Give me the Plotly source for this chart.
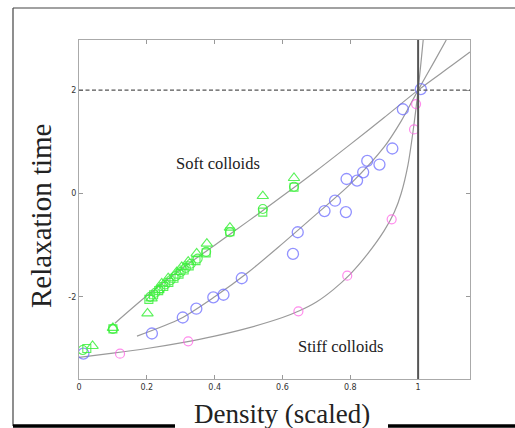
import plotly.graph_objects as go

# ---- data ----
soft_curve_x = [0.106, 0.2, 0.3, 0.4, 0.5, 0.6, 0.7, 0.8, 0.9, 1.0, 1.1, 1.153]
soft_curve_y = [-2.51, -1.98, -1.47, -1.0, -0.53, -0.05, 0.44, 0.95, 1.47, 2.0, 2.48, 2.74]

mid_curve_x = [0.171, 0.3, 0.4, 0.5, 0.6, 0.7, 0.8, 0.9, 0.95, 1.0, 1.05, 1.083]
mid_curve_y = [-2.76, -2.42, -2.0, -1.52, -0.97, -0.40, 0.18, 0.90, 1.40, 2.0, 2.58, 2.97]

stiff_curve_x = [0.0, 0.1, 0.2, 0.3, 0.4, 0.5, 0.6, 0.65, 0.7, 0.75, 0.8, 0.85, 0.9, 0.93, 0.95, 0.97, 0.985, 1.0, 1.015]
stiff_curve_y = [-3.17, -3.09, -3.0, -2.89, -2.76, -2.6, -2.4, -2.27, -2.1, -1.86, -1.56, -1.18, -0.72, -0.36, 0.0, 0.55, 1.2, 2.0, 2.97]

green_tri_x = [0.04, 0.10, 0.202, 0.214, 0.234, 0.244, 0.263, 0.288, 0.303, 0.322, 0.347, 0.377, 0.445, 0.542, 0.634]
green_tri_y = [-2.95, -2.60, -2.32, -2.03, -1.87, -1.74, -1.64, -1.52, -1.42, -1.32, -1.16, -0.97, -0.66, -0.05, 0.30]

green_circ_x = [0.011, 0.10, 0.21, 0.225, 0.24, 0.255, 0.27, 0.285, 0.30, 0.315, 0.33, 0.35, 0.375, 0.445, 0.542, 0.634]
green_circ_y = [-3.03, -2.62, -2.0, -1.92, -1.84, -1.76, -1.68, -1.60, -1.52, -1.44, -1.36, -1.26, -1.13, -0.75, -0.30, 0.13]

green_sq_x = [0.023, 0.10, 0.206, 0.22, 0.235, 0.25, 0.265, 0.28, 0.295, 0.31, 0.325, 0.345, 0.375, 0.445, 0.542, 0.634]
green_sq_y = [-3.0, -2.62, -2.05, -1.96, -1.88, -1.80, -1.72, -1.64, -1.56, -1.48, -1.40, -1.30, -1.15, -0.74, -0.36, 0.12]

blue_x = [0.013, 0.215, 0.306, 0.346, 0.396, 0.426, 0.48, 0.631, 0.645, 0.724, 0.755, 0.787,
          0.789, 0.82, 0.838, 0.85, 0.886, 0.924, 0.955, 1.008]
blue_y = [-3.10, -2.71, -2.40, -2.23, -2.01, -1.96, -1.64, -1.17, -0.75, -0.34, -0.14, -0.36,
          0.28, 0.25, 0.41, 0.63, 0.56, 0.87, 1.63, 2.02]

pink_x = [0.121, 0.322, 0.647, 0.791, 0.922, 0.988, 0.994]
pink_y = [-3.10, -2.86, -2.28, -1.59, -0.50, 1.24, 1.73]

x_tickvals = [0, 0.2, 0.4, 0.6, 0.8, 1]
x_ticktext = ["0", "0.2", "0.4", "0.6", "0.8", "1"]
y_tickvals = [-2, 0, 2]
y_ticktext = ["-2", "0", "2"]

x_range = [0, 1.153]
y_range = [-3.59, 2.97]
glass_x = 1.0
glass_y = 2.0

# ---- layout geometry (pixels) ----
W, H = 515, 428
L, R, T, B = 79, 470, 40, 379


def px(xp):
    return (xp - L) / (R - L)


def py(yp):
    return 1 - (yp - T) / (B - T)


curve_color = "#9a9a9a"
green = "rgba(60,240,60,0.85)"
blue = "rgba(110,110,255,0.75)"
pink = "rgba(255,100,230,0.75)"

fig = go.Figure()

for cx, cy in [(soft_curve_x, soft_curve_y), (mid_curve_x, mid_curve_y), (stiff_curve_x, stiff_curve_y)]:
    fig.add_trace(go.Scatter(x=cx, y=cy, mode="lines",
                             line=dict(color=curve_color, width=1.2, shape="spline", smoothing=0.8),
                             hoverinfo="skip", showlegend=False))

fig.add_trace(go.Scatter(x=blue_x, y=blue_y, mode="markers",
                         marker=dict(symbol="circle-open", size=11, color=blue, line=dict(width=1.3)),
                         showlegend=False))
fig.add_trace(go.Scatter(x=pink_x, y=pink_y, mode="markers",
                         marker=dict(symbol="circle-open", size=9, color=pink, line=dict(width=1.2)),
                         showlegend=False))
fig.add_trace(go.Scatter(x=green_tri_x, y=green_tri_y, mode="markers",
                         marker=dict(symbol="triangle-up-open", size=10, color=green, line=dict(width=1.1)),
                         showlegend=False))
fig.add_trace(go.Scatter(x=green_circ_x, y=green_circ_y, mode="markers",
                         marker=dict(symbol="circle-open", size=9, color=green, line=dict(width=1.1)),
                         showlegend=False))
fig.add_trace(go.Scatter(x=green_sq_x, y=green_sq_y, mode="markers",
                         marker=dict(symbol="square-open", size=8, color=green, line=dict(width=1.1)),
                         showlegend=False))

shapes = [
    dict(type="line", xref="x", yref="y", x0=x_range[0], x1=x_range[1], y0=glass_y, y1=glass_y,
         line=dict(color="#555555", width=1.4, dash="4px,2.5px")),
    dict(type="line", xref="x", yref="paper", x0=glass_x, x1=glass_x, y0=0, y1=1,
         line=dict(color="#555555", width=2)),
    dict(type="line", xref="paper", yref="paper", x0=px(13), x1=px(516), y0=py(8), y1=py(8),
         line=dict(color="#444444", width=1.2)),
    dict(type="line", xref="paper", yref="paper", x0=px(13), x1=px(13), y0=py(8), y1=py(426),
         line=dict(color="#444444", width=1.2)),
    dict(type="line", xref="paper", yref="paper", x0=px(13), x1=px(175), y0=py(426), y1=py(426),
         line=dict(color="#000000", width=3.5)),
    dict(type="line", xref="paper", yref="paper", x0=px(388), x1=px(516), y0=py(426), y1=py(426),
         line=dict(color="#000000", width=3.5)),
]

serif = "Liberation Serif, Times New Roman, serif"
annotations = [
    dict(text="Soft colloids", x=px(218), y=py(163), xref="paper", yref="paper", showarrow=False,
         font=dict(family=serif, size=16.5, color="#222222"), xanchor="center", yanchor="middle"),
    dict(text="Stiff colloids", x=px(340), y=py(346), xref="paper", yref="paper", showarrow=False,
         font=dict(family=serif, size=16.5, color="#222222"), xanchor="center", yanchor="middle"),
    dict(text="Density (scaled)", x=px(282), y=py(414), xref="paper", yref="paper", showarrow=False,
         font=dict(family=serif, size=27, color="#222222"), xanchor="center", yanchor="middle"),
    dict(text="Relaxation time", x=px(41), y=py(216), xref="paper", yref="paper", showarrow=False,
         textangle=-90, font=dict(family=serif, size=29, color="#222222"),
         xanchor="center", yanchor="middle"),
]

axis_common = dict(showline=True, mirror="ticks", linecolor="#aaaaaa", linewidth=1.2,
                   ticks="inside", ticklen=4, tickcolor="#999999", showgrid=False, zeroline=False,
                   tickfont=dict(family="DejaVu Sans, Arial, sans-serif", size=8, color="#333333"))

fig.update_layout(
    width=W, height=H,
    margin=dict(l=L, r=W - R, t=T, b=H - B),
    paper_bgcolor="white", plot_bgcolor="white",
    xaxis=dict(range=x_range, tickvals=x_tickvals, ticktext=x_ticktext, **axis_common),
    yaxis=dict(range=y_range, tickvals=y_tickvals, ticktext=y_ticktext, **axis_common),
    shapes=shapes, annotations=annotations,
    showlegend=False,
)

fig.write_html("out.html", config={"displayModeBar": False})

# remove the default page margin so the figure sits at the window's top-left corner
with open("out.html", "r", encoding="utf-8") as f:
    html = f.read()
html = html.replace("<head>", "<head><style>html,body{margin:0;padding:0;overflow:hidden;}</style>", 1)
with open("out.html", "w", encoding="utf-8") as f:
    f.write(html)
